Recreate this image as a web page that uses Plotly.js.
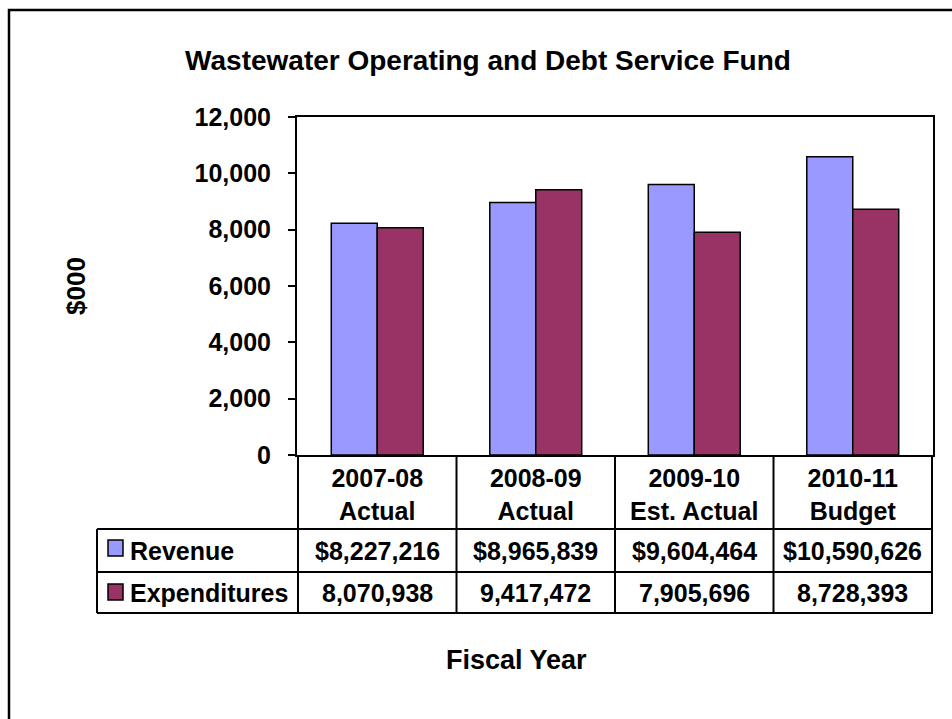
<!DOCTYPE html>
<html>
<head>
<meta charset="utf-8">
<script src="https://cdn.plot.ly/plotly-3.0.1.min.js"></script>
<style>
  html, body { margin: 0; padding: 0; background: #fff; }
  #chart { width: 952px; height: 719px; }
</style>
</head>
<body>
<div id="chart"></div>
<script>
// Fiscal years shown on the category axis
const categories = ['2007-08<br>Actual', '2008-09<br>Actual', '2009-10<br>Est. Actual', '2010-11<br>Budget'];
const seriesNames = ['Revenue', 'Expenditures'];
// Amounts in dollars
const revenue = [8227216, 8965839, 9604464, 10590626];
const expenditures = [8070938, 9417472, 7905696, 8728393];
const yTicks = [0, 2000, 4000, 6000, 8000, 10000, 12000];

const FONT = 'Liberation Sans, Arial, Helvetica, sans-serif';
const colors = ['#9999FF', '#993366'];

// Plot area geometry in pixels (used to place the data table under the axis)
const W = 952, H = 719;
const M = { l: 297, r: 19, t: 117, b: 264 };
const plotW = W - M.l - M.r;
const plotH = H - M.t - M.b;
const py = p => (H - M.b - p) / plotH;   // pixel row -> paper y
const px = p => (p - M.l) / plotW;       // pixel column -> paper x

const toThousands = v => v / 1000;
const fmt = v => v.toLocaleString('en-US');

const traces = [
  {
    type: 'bar', name: seriesNames[0], x: categories, y: revenue.map(toThousands),
    marker: { color: colors[0], line: { color: '#000', width: 1.5 } },
    hoverinfo: 'skip'
  },
  {
    type: 'bar', name: seriesNames[1], x: categories, y: expenditures.map(toThousands),
    marker: { color: colors[1], line: { color: '#000', width: 1.5 } },
    hoverinfo: 'skip'
  }
];

// Data table rows below the axis
const rowLines = [529, 572, 613];
const rowCenters = [551, 592.5];
const tableLeft = 97;
const lineStyle = { color: '#000', width: 2 };

const shapes = [];
// horizontal rules of the table
rowLines.forEach(p => shapes.push({
  type: 'line', xref: 'paper', yref: 'paper',
  x0: px(tableLeft), x1: 1, y0: py(p), y1: py(p), line: lineStyle
}));
// left edge of the series-name column
shapes.push({
  type: 'line', xref: 'paper', yref: 'paper',
  x0: px(tableLeft), x1: px(tableLeft), y0: py(rowLines[0]), y1: py(rowLines[2]), line: lineStyle
});
// column dividers between categories
for (let i = 0; i <= categories.length; i++) {
  shapes.push({
    type: 'line', xref: 'x', yref: 'paper',
    x0: i - 0.5, x1: i - 0.5, y0: 0, y1: py(rowLines[2]), line: lineStyle
  });
}
// legend keys inside the table
const keyCenters = [548, 592];
keyCenters.forEach((c, k) => shapes.push({
  type: 'rect', xref: 'paper', yref: 'paper',
  x0: px(108), x1: px(123), y0: py(c + 8), y1: py(c - 8),
  fillcolor: colors[k], line: { color: '#000', width: 1.5 }
}));
// outer chart frame
shapes.push({
  type: 'rect', xref: 'paper', yref: 'paper',
  x0: px(9), x1: px(1000), y0: py(760), y1: py(10),
  line: { color: '#000', width: 2.5 }, fillcolor: 'rgba(0,0,0,0)'
});

const cellFont = { family: FONT, size: 25, color: '#000', weight: 'bold' };
const annotations = [];
[revenue, expenditures].forEach((vals, r) => {
  annotations.push({
    xref: 'paper', yref: 'paper', x: px(128), y: py(rowCenters[r]),
    xanchor: 'left', yanchor: 'middle', showarrow: false,
    text: seriesNames[r], font: cellFont
  });
  vals.forEach((v, i) => annotations.push({
    xref: 'x', yref: 'paper', x: i, y: py(rowCenters[r]),
    xanchor: 'center', yanchor: 'middle', showarrow: false,
    text: (r === 0 ? '$' : '') + fmt(v), font: cellFont
  }));
});
// horizontal axis caption, centred under the whole table
annotations.push({
  xref: 'paper', yref: 'paper', x: px(516), y: py(660),
  xanchor: 'center', yanchor: 'middle', showarrow: false,
  text: 'Fiscal Year', font: { family: FONT, size: 27, color: '#000', weight: 'bold' }
});

const layout = {
  width: W, height: H, autosize: false,
  margin: M,
  paper_bgcolor: '#fff', plot_bgcolor: '#fff',
  font: { family: FONT, color: '#000', weight: 'bold' },
  showlegend: false,
  barmode: 'group', bargap: 0.42, bargroupgap: 0,
  title: {
    text: 'Wastewater Operating and Debt Service Fund',
    font: { family: FONT, size: 28, color: '#000', weight: 'bold' },
    xref: 'container', yref: 'container', x: 488 / W, y: 1 - 60 / H,
    xanchor: 'center', yanchor: 'middle'
  },
  xaxis: {
    type: 'category',
    showline: true, mirror: true, linecolor: '#000', linewidth: 2,
    ticks: '', showgrid: false, zeroline: false,
    tickfont: { family: FONT, size: 25, color: '#000', weight: 'bold' },
    ticklabelstandoff: 0
  },
  yaxis: {
    range: [0, 12000], tickvals: yTicks, ticktext: yTicks.map(fmt),
    showline: true, mirror: true, linecolor: '#000', linewidth: 2,
    ticks: 'outside', ticklen: 7, tickwidth: 2, tickcolor: '#000',
    showgrid: false, zeroline: false,
    tickfont: { family: FONT, size: 25, color: '#000', weight: 'bold' },
    ticklabelstandoff: 12,
    title: {
      text: '$000', standoff: 101,
      font: { family: FONT, size: 26, color: '#000', weight: 'bold' }
    }
  },
  shapes: shapes,
  annotations: annotations
};

Plotly.newPlot('chart', traces, layout, { staticPlot: true, displayModeBar: false });
</script>
</body>
</html>
